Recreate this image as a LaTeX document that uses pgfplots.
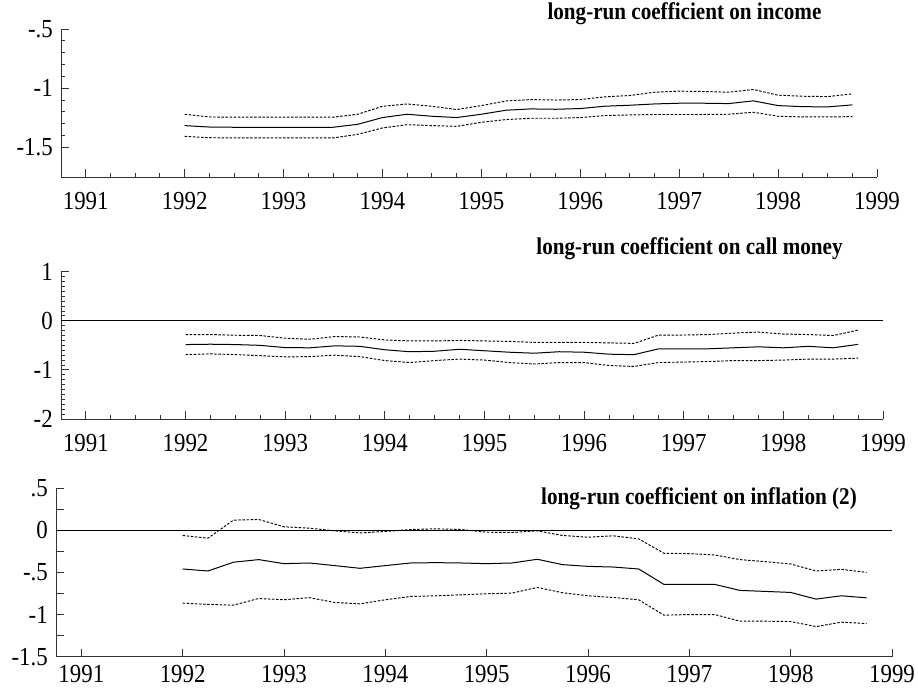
\documentclass[border=0pt]{standalone}
\usepackage{fontspec}
\setmainfont{Liberation Serif}[FakeStretch=0.88]
\usepackage{pgfplots}
\usepackage{pgfplotstable}
\pgfplotsset{compat=1.18}

% t  est  hi  lo
\pgfplotstableread{
t est hi lo
1992.00 -1.316 -1.220 -1.407
1992.25 -1.328 -1.243 -1.418
1992.50 -1.330 -1.245 -1.420
1992.75 -1.330 -1.245 -1.420
1993.00 -1.330 -1.245 -1.420
1993.25 -1.330 -1.245 -1.420
1993.50 -1.330 -1.245 -1.420
1993.75 -1.305 -1.220 -1.390
1994.00 -1.248 -1.153 -1.336
1994.25 -1.220 -1.133 -1.308
1994.50 -1.237 -1.153 -1.316
1994.75 -1.248 -1.180 -1.322
1995.00 -1.220 -1.147 -1.288
1995.25 -1.186 -1.108 -1.265
1995.50 -1.175 -1.096 -1.254
1995.75 -1.178 -1.100 -1.254
1996.00 -1.172 -1.096 -1.248
1996.25 -1.152 -1.073 -1.231
1996.50 -1.144 -1.062 -1.226
1996.75 -1.133 -1.034 -1.222
1997.00 -1.127 -1.025 -1.222
1997.25 -1.127 -1.028 -1.222
1997.50 -1.130 -1.034 -1.220
1997.75 -1.107 -1.011 -1.203
1998.00 -1.147 -1.059 -1.237
1998.25 -1.156 -1.068 -1.243
1998.50 -1.158 -1.071 -1.243
1998.75 -1.141 -1.048 -1.240
}\income

\pgfplotstableread{
t est hi lo
1992.00 -0.484 -0.280 -0.688
1992.25 -0.477 -0.280 -0.674
1992.50 -0.484 -0.294 -0.688
1992.75 -0.500 -0.300 -0.710
1993.00 -0.546 -0.355 -0.735
1993.25 -0.550 -0.376 -0.730
1993.50 -0.510 -0.320 -0.700
1993.75 -0.520 -0.330 -0.730
1994.00 -0.590 -0.390 -0.810
1994.25 -0.630 -0.410 -0.850
1994.50 -0.620 -0.410 -0.810
1994.75 -0.580 -0.400 -0.780
1995.00 -0.610 -0.410 -0.800
1995.25 -0.640 -0.420 -0.850
1995.50 -0.660 -0.440 -0.880
1995.75 -0.630 -0.440 -0.850
1996.00 -0.640 -0.440 -0.850
1996.25 -0.680 -0.450 -0.910
1996.50 -0.690 -0.460 -0.930
1996.75 -0.570 -0.290 -0.850
1997.00 -0.570 -0.290 -0.840
1997.25 -0.570 -0.280 -0.830
1997.50 -0.550 -0.250 -0.810
1997.75 -0.530 -0.230 -0.810
1998.00 -0.550 -0.270 -0.800
1998.25 -0.520 -0.280 -0.780
1998.50 -0.550 -0.300 -0.780
1998.75 -0.480 -0.190 -0.760
}\callmoney

\pgfplotstableread{
t est hi lo
1992.00 -0.460 -0.063 -0.865
1992.25 -0.484 -0.095 -0.880
1992.50 -0.380 0.119 -0.889
1992.75 -0.349 0.127 -0.810
1993.00 -0.397 0.040 -0.825
1993.25 -0.389 0.024 -0.800
1993.50 -0.420 -0.008 -0.857
1993.75 -0.452 -0.032 -0.873
1994.00 -0.420 -0.016 -0.825
1994.25 -0.389 0.008 -0.786
1994.50 -0.385 0.016 -0.778
1994.75 -0.389 0.008 -0.766
1995.00 -0.397 -0.024 -0.754
1995.25 -0.389 -0.028 -0.746
1995.50 -0.345 -0.008 -0.679
1995.75 -0.409 -0.063 -0.742
1996.00 -0.429 -0.083 -0.778
1996.25 -0.437 -0.067 -0.798
1996.50 -0.460 -0.103 -0.825
1996.75 -0.643 -0.274 -1.008
1997.00 -0.643 -0.278 -1.000
1997.25 -0.643 -0.294 -1.000
1997.50 -0.714 -0.349 -1.079
1997.75 -0.726 -0.373 -1.079
1998.00 -0.738 -0.401 -1.083
1998.25 -0.817 -0.484 -1.143
1998.50 -0.778 -0.464 -1.091
1998.75 -0.802 -0.500 -1.107
}\inflation

\pgfplotsset{
  panel/.style={
    scale only axis,
    anchor=south west,
    axis x line*=bottom, axis y line*=left,
    axis line style={black!80, line width=0.9pt},
    every tick/.style={black!80, line width=0.9pt},
    tick align=inside,
    major tick length=8pt, minor tick length=4pt,
    xmin=1990.75, xmax=1999,
    xtick={1991,1992,1993,1994,1995,1996,1997,1998,1999},
    xticklabels={1991,1992,1993,1994,1995,1996,1997,1998,1999},
    /pgf/number format/assume math mode=true,
    ticklabel style={font=\fontsize{26}{30}\selectfont, inner sep=0pt},
    yticklabel style={anchor=east, xshift=-8pt},
  },
}
\tikzset{
  est/.style={black, line width=1pt},
  band/.style={black, line width=0.95pt, dash pattern=on 2.5pt off 1.6pt},
  ttl/.style={anchor=base, font=\bfseries\fontsize{24}{28}\selectfont},
}

\begin{document}
\begin{tikzpicture}
\useasboundingbox (0,0) rectangle (918pt,694pt);

% income
\begin{axis}[panel, at={(61pt,517pt)}, width=816pt, height=148pt,
  ymin=-1.75, ymax=-0.5,
  ytick={-1.5,-1,-0.5}, yticklabels={-1.5,-1,-.5},
  minor x tick num=3, minor y tick num=4,
  xticklabel style={anchor=north, yshift=-15pt}]
  \addplot[band] table[x=t, y=hi] {\income};
  \addplot[est]  table[x=t, y=est] {\income};
  \addplot[band] table[x=t, y=lo] {\income};
\end{axis}

% call money
\begin{axis}[panel, at={(61pt,275pt)}, width=822pt, height=147.3pt,
  ymin=-2, ymax=1,
  ytick={-2,-1,0,1}, yticklabels={-2,-1,0,1},
  minor x tick num=3, minor y tick num=9,
  xticklabel style={anchor=north, yshift=-15pt}]
  \addplot[black, line width=0.9pt] coordinates {(1990.75,0) (1999,0)};
  \addplot[band] table[x=t, y=hi] {\callmoney};
  \addplot[est]  table[x=t, y=est] {\callmoney};
  \addplot[band] table[x=t, y=lo] {\callmoney};
\end{axis}

% inflation
\begin{axis}[panel, at={(56pt,37.3pt)}, width=836pt, height=168.7pt,
  ymin=-1.5, ymax=0.5,
  ytick={-1.5,-1,-0.5,0,0.5}, yticklabels={-1.5,-1,-.5,0,.5},
  minor y tick num=1, minor tick length=8pt,
  xticklabel style={anchor=north, yshift=-8pt}]
  \addplot[black, line width=0.9pt] coordinates {(1990.75,0) (1999,0)};
  \addplot[band] table[x=t, y=hi] {\inflation};
  \addplot[est]  table[x=t, y=est] {\inflation};
  \addplot[band] table[x=t, y=lo] {\inflation};
\end{axis}

\node[ttl] at (684.5pt,674pt) {long-run coefficient on income};
\node[ttl] at (689.5pt,439pt) {long-run coefficient on call money};
\node[ttl] at (699pt,190pt) {long-run coefficient on inflation (2)};
\end{tikzpicture}
\end{document}
